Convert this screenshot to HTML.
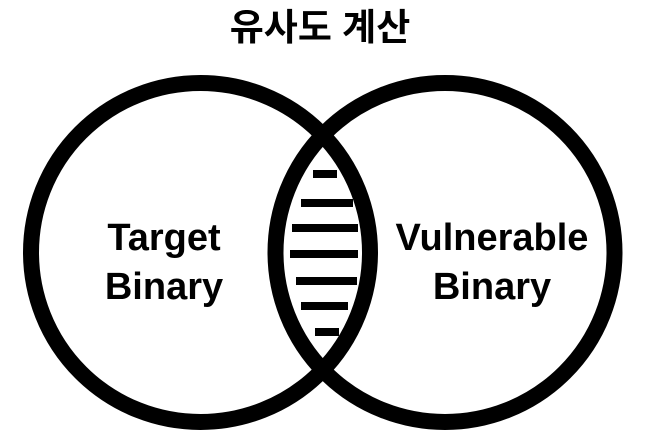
<!DOCTYPE html>
<html><head><meta charset="utf-8"><style>
html,body{margin:0;padding:0;background:#fff;width:646px;height:447px;overflow:hidden}
</style></head><body>
<svg width="646" height="447" viewBox="0 0 646 447" xmlns="http://www.w3.org/2000/svg">
<rect width="646" height="447" fill="#fff"/>
<text x="320" y="40" text-anchor="middle" font-family="'Liberation Sans','Noto Sans CJK KR',sans-serif" font-weight="bold" font-size="37">유사도 계산</text>
<ellipse cx="200.5" cy="252.5" rx="169.5" ry="169.5" fill="none" stroke="#000" stroke-width="16"/>
<ellipse cx="445" cy="252.5" rx="169.5" ry="169.5" fill="none" stroke="#000" stroke-width="16"/>
<g fill="#000">
<rect x="313" y="170" width="24" height="8"/>
<rect x="301" y="199" width="52" height="8"/>
<rect x="292" y="224" width="66" height="8"/>
<rect x="290" y="250" width="68" height="8"/>
<rect x="296" y="277" width="61" height="8"/>
<rect x="301" y="302" width="47" height="8"/>
<rect x="315" y="328" width="24" height="8"/>
</g>
<g font-family="'Liberation Sans','Noto Sans CJK KR',sans-serif" font-weight="bold" font-size="38" text-anchor="middle">
<text x="164" y="250">Target</text>
<text x="164" y="299">Binary</text>
<text x="492" y="250">Vulnerable</text>
<text x="492" y="299">Binary</text>
</g>
</svg>
</body></html>
